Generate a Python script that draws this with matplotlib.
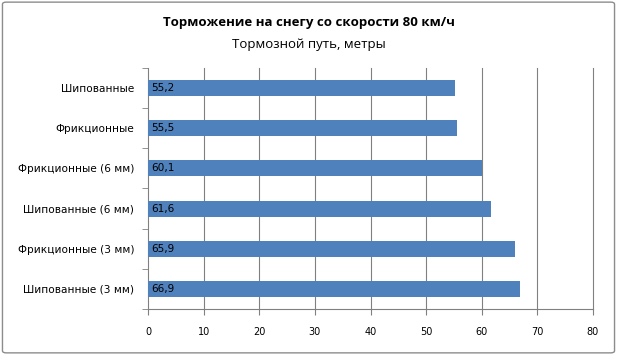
import matplotlib
matplotlib.use("Agg")
import matplotlib.pyplot as plt
from matplotlib.patches import FancyBboxPatch
from matplotlib.ticker import FixedLocator

categories = ["Шипованные", "Фрикционные", "Фрикционные (6 мм)",
              "Шипованные (6 мм)", "Фрикционные (3 мм)", "Шипованные (3 мм)"]
values = [55.2, 55.5, 60.1, 61.6, 65.9, 66.9]
value_labels = ["55,2", "55,5", "60,1", "61,6", "65,9", "66,9"]
xticks = [0, 10, 20, 30, 40, 50, 60, 70, 80]

fig = plt.figure(figsize=(6.17, 3.55), dpi=100)
fig.patches.append(FancyBboxPatch((0.004, 0.006), 0.992, 0.988,
                                  boxstyle="round,pad=0,rounding_size=0.006",
                                  transform=fig.transFigure, fill=False,
                                  edgecolor="#8c8c8c", linewidth=1.0))

ax = fig.add_axes([0.2399, 0.1296, 0.7212, 0.6789])
y = list(range(len(categories)))
ax.barh(y, values, height=0.4, color="#4F81BD", zorder=3)
ax.set_xlim(0, 80)
ax.set_ylim(len(categories) - 0.5, -0.5)
ax.set_xticks(xticks)
ax.set_xticklabels([str(t) for t in xticks], fontsize=7, family="DejaVu Sans")
ax.set_yticks(y)
ax.set_yticklabels(categories, fontsize=7.6, family="DejaVu Sans")
ax.tick_params(axis="y", which="major", length=0, pad=10)
ax.yaxis.set_minor_locator(FixedLocator([i - 0.5 for i in range(len(categories) + 1)]))
ax.tick_params(axis="y", which="minor", length=4, color="#808080", direction="out")
ax.tick_params(axis="x", which="major", length=4, color="#808080", direction="out", pad=9)
for t in xticks[1:]:
    ax.axvline(t, color="#808080", linewidth=0.8, zorder=0, clip_on=False)
for s in ["top", "right"]:
    ax.spines[s].set_visible(False)
ax.spines["left"].set_color("#808080")
ax.spines["bottom"].set_color("#808080")

for yi, v, lab in zip(y, values, value_labels):
    ax.text(0.6, yi, lab, va="center", ha="left", fontsize=7.6, family="DejaVu Sans",
            color="black", zorder=4)

fig.text(0.5, 0.936, "Торможение на снегу со скорости 80 км/ч", ha="center", va="center",
         fontsize=9.5, fontweight="bold", family="Open Sans")
fig.text(0.5, 0.876, "Тормозной путь, метры", ha="center", va="center",
         fontsize=9.5, family="Open Sans")

fig.savefig("out.png", dpi=100)
